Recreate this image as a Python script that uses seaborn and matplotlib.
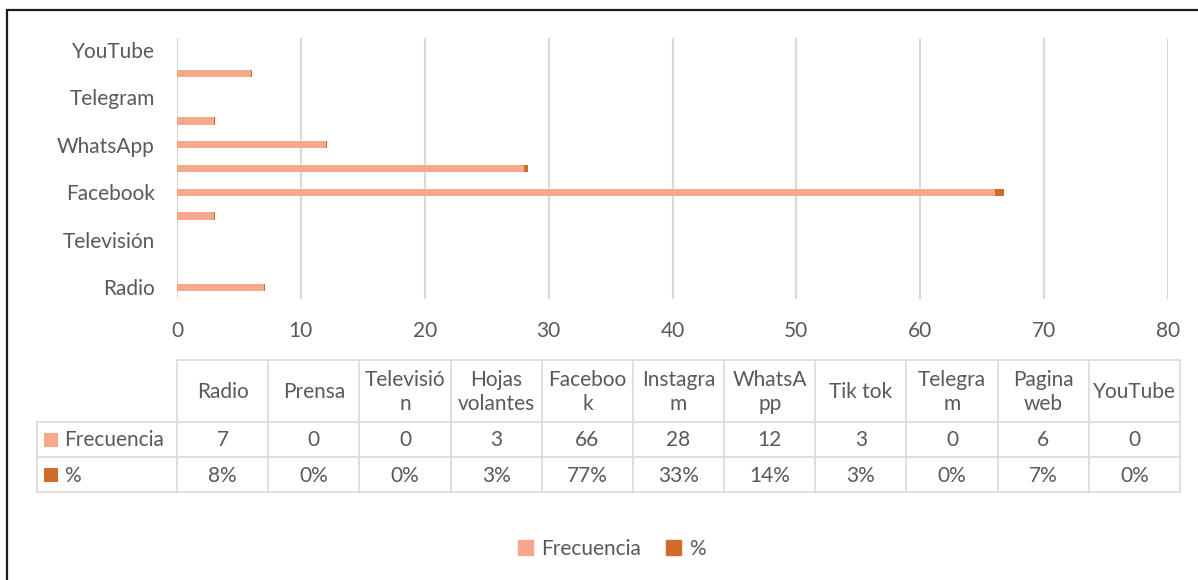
import matplotlib
matplotlib.use("Agg")
import matplotlib.pyplot as plt
import seaborn as sns
import pandas as pd
from matplotlib.patches import Patch, Rectangle

# ---------------- data ----------------
categories = ["Radio", "Prensa", "Televisión", "Hojas volantes", "Facebook",
              "Instagram", "WhatsApp", "Tik tok", "Telegram", "Pagina web", "YouTube"]
header_labels = ["Radio", "Prensa", "Televisió\nn", "Hojas\nvolantes", "Faceboo\nk",
                 "Instagra\nm", "WhatsA\npp", "Tik tok", "Telegra\nm", "Pagina\nweb", "YouTube"]
frecuencia = [7, 0, 0, 3, 66, 28, 12, 3, 0, 6, 0]
porcentaje = [0.08, 0, 0, 0.03, 0.77, 0.33, 0.14, 0.03, 0, 0.07, 0]
x_ticks = [0, 10, 20, 30, 40, 50, 60, 70, 80]
series_names = ["Frecuencia", "%"]

# ---------------- style ----------------
LIGHT = "#F3A98A"
DARK = "#D06B2A"
GRID = "#D9D9D9"
TXT = "#595959"
FONT = ["Lato", "DejaVu Sans"]
FS = 15

sns.set_theme(style="white")
plt.rcParams["font.family"] = FONT

W, H = 1198, 580
fig = plt.figure(figsize=(W / 100, H / 100), dpi=100)

# overlay axes in pixel coordinates (for frame, data table)
ov = fig.add_axes([0, 0, 1, 1], zorder=0)
ov.set_xlim(0, W)
ov.set_ylim(H, 0)
ov.axis("off")

# ---------------- bar chart ----------------
left, right, top, bottom = 177, 1168, 38, 299
ax = fig.add_axes([left / W, 1 - bottom / H, (right - left) / W, (bottom - top) / H], zorder=2)
ax.patch.set_alpha(0)

df = pd.DataFrame({"cat": categories, "freq": frecuencia, "pct": porcentaje})
df["total"] = df["freq"] + df["pct"]
order = categories[::-1]

sns.barplot(data=df, y="cat", x="total", order=order, orient="h", color=DARK,
            saturation=1, width=0.3, linewidth=0, ax=ax)
sns.barplot(data=df, y="cat", x="freq", order=order, orient="h", color=LIGHT,
            saturation=1, width=0.3, linewidth=0, ax=ax)

ax.set_xlim(x_ticks[0], x_ticks[-1])
ax.set_xticks(x_ticks)
ax.set_xticklabels([str(t) for t in x_ticks])
shown = categories[0::2]
ax.set_yticks([order.index(c) for c in shown])
ax.set_yticklabels(shown)
ax.set_ylim(len(categories) - 0.5, -0.5)
ax.set_xlabel("")
ax.set_ylabel("")
for s in ax.spines.values():
    s.set_visible(False)
ax.grid(axis="x", color=GRID, linewidth=1.5)
ax.grid(axis="y", visible=False)
ax.set_axisbelow(True)
ax.tick_params(axis="x", length=0, pad=16, labelsize=FS, labelcolor=TXT)
ax.tick_params(axis="y", length=0, pad=16, labelsize=FS, labelcolor=TXT)

# ---------------- frame ----------------
ov.plot([7, 7, W], [H, 10, 10], color="#1a1a1a", linewidth=1.6, solid_joinstyle="miter")

# ---------------- data table ----------------
t_left, t_right = 177, 1180
lab_left = 37
rows_y = [360, 422, 457, 492]
ncol = len(categories)
cw = (t_right - t_left) / ncol
lw = 1.2
ov.plot([t_left, t_right], [rows_y[0]] * 2, color=GRID, lw=lw)
for yy in rows_y[1:]:
    ov.plot([lab_left, t_right], [yy] * 2, color=GRID, lw=lw)
ov.plot([lab_left, lab_left], [rows_y[1], rows_y[3]], color=GRID, lw=lw)
for i in range(ncol + 1):
    xx = t_left + i * cw
    ov.plot([xx, xx], [rows_y[0], rows_y[3]], color=GRID, lw=lw)

for i, lab in enumerate(header_labels):
    cx = t_left + (i + 0.5) * cw
    ov.text(cx, (rows_y[0] + rows_y[1]) / 2 + 1, lab, ha="center", va="center",
            fontsize=FS, color=TXT, linespacing=1.22)
    ov.text(cx, (rows_y[1] + rows_y[2]) / 2 + 1, str(frecuencia[i]), ha="center",
            va="center", fontsize=FS, color=TXT)
    ov.text(cx, (rows_y[2] + rows_y[3]) / 2 + 1, f"{porcentaje[i]:.0%}", ha="center",
            va="center", fontsize=FS, color=TXT)

for r, (name, col) in enumerate(zip(series_names, [LIGHT, DARK])):
    yc = (rows_y[1 + r] + rows_y[2 + r]) / 2
    ov.add_patch(Rectangle((44, yc - 7), 14, 14, color=col, lw=0))
    ov.text(64, yc + 1, name, ha="left", va="center", fontsize=FS, color=TXT)

# ---------------- legend ----------------
handles = [Patch(color=LIGHT, label=series_names[0]), Patch(color=DARK, label=series_names[1])]
fig.legend(handles=handles, loc="center", bbox_to_anchor=(612 / W, 1 - 549 / H), ncol=2,
           frameon=False, handlelength=0.7, handleheight=0.7, handletextpad=0.4,
           columnspacing=1.2, fontsize=FS, labelcolor=TXT)

fig.savefig("out.png", dpi=100)
